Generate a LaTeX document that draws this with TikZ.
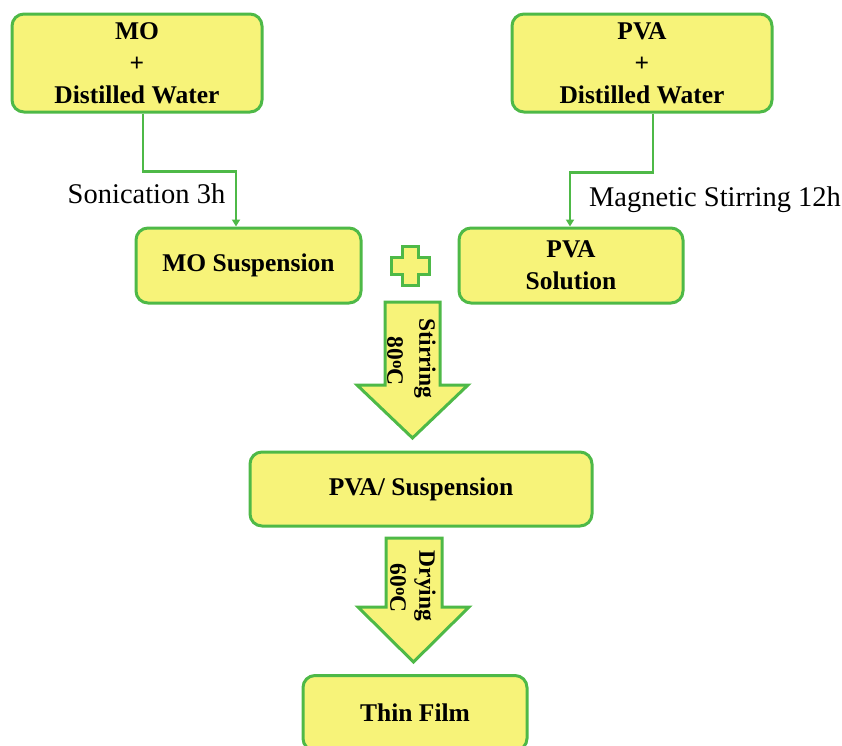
\documentclass[tikz,border=0pt]{standalone}
\usepackage{fontspec}
\setmainfont{Liberation Serif}
\usetikzlibrary{arrows.meta}
\definecolor{boxfill}{HTML}{F7F379}
\definecolor{boxline}{HTML}{4EB947}
\tikzset{
  stepbox/.style={draw=boxline, line width=3pt, fill=boxfill, rounded corners=12pt,
    align=center, inner sep=0pt, font=\fontsize{25.5}{32}\selectfont\bfseries},
  conn/.style={draw=boxline, line width=2.5pt, -{Triangle[width=8pt,length=7pt]}},
  blockarrow/.style={draw=boxline, line width=3pt, fill=boxfill, line join=miter},
  lbl/.style={inner sep=0pt, font=\fontsize{28.5}{32}\selectfont},
  rotlbl/.style={inner sep=0pt, rotate=-90, font=\fontsize{23.5}{26}\selectfont\bfseries}
}
\newcommand{\degsup}{\raisebox{0.55ex}{\fontsize{17}{17}\selectfont o}}
\begin{document}
\begin{tikzpicture}[x=1pt,y=-1pt]
\useasboundingbox (0,0) rectangle (842,745);
\begin{scope}
\clip (0,0) rectangle (842,745);
\node[stepbox, minimum width=250pt, minimum height=98pt] (mo) at (137,63) {MO\\+\\Distilled Water};
\node[stepbox, minimum width=260pt, minimum height=98pt] (pva) at (642,63) {PVA\\+\\Distilled Water};
\node[stepbox, minimum width=225pt, minimum height=75pt] (mosus) at (248.5,265.5) {MO Suspension};
\node[stepbox, minimum width=224pt, minimum height=75pt] (pvasol) at (571,265.5) {PVA\\Solution};
\node[stepbox, minimum width=342pt, minimum height=74pt] (mix) at (421,489) {PVA/ Suspension};
\node[stepbox, minimum width=224pt, minimum height=75pt] (film) at (415,713) {Thin Film};

\draw[conn] ([xshift=6pt]mo.south) -- ++(0,58) -| ([xshift=-12.5pt]mosus.north);
\draw[conn] ([xshift=11pt]pva.south) -- ++(0,59) -| ([xshift=-1pt]pvasol.north);

\node[lbl] (son) at (146.5,194) {Sonication 3h};
\node[lbl] (mag) at (715,200) {Magnetic Stirring 12h};

% plus sign
\draw[blockarrow] (402,246) -- (418,246) -- (418,257) -- (429,257) -- (429,274) -- (418,274)
  -- (418,285) -- (402,285) -- (402,274) -- (391,274) -- (391,257) -- (402,257) -- cycle;

% block arrow 1
\draw[blockarrow] (385,302) -- (440,302) -- (440,385) -- (468,385) -- (412.5,438)
  -- (357,385) -- (385,385) -- cycle;
\node[rotlbl] (stir) at (425,358.5) {Stirring};
\node[rotlbl] (t80) at (395,361) {80\degsup C};

% block arrow 2
\draw[blockarrow] (386,538) -- (442,538) -- (442,607) -- (469,607) -- (413.5,662)
  -- (358,607) -- (386,607) -- cycle;
\node[rotlbl] (dry) at (425,586) {Drying};
\node[rotlbl] (t60) at (398,588) {60\degsup C};
\end{scope}
\end{tikzpicture}
\end{document}
